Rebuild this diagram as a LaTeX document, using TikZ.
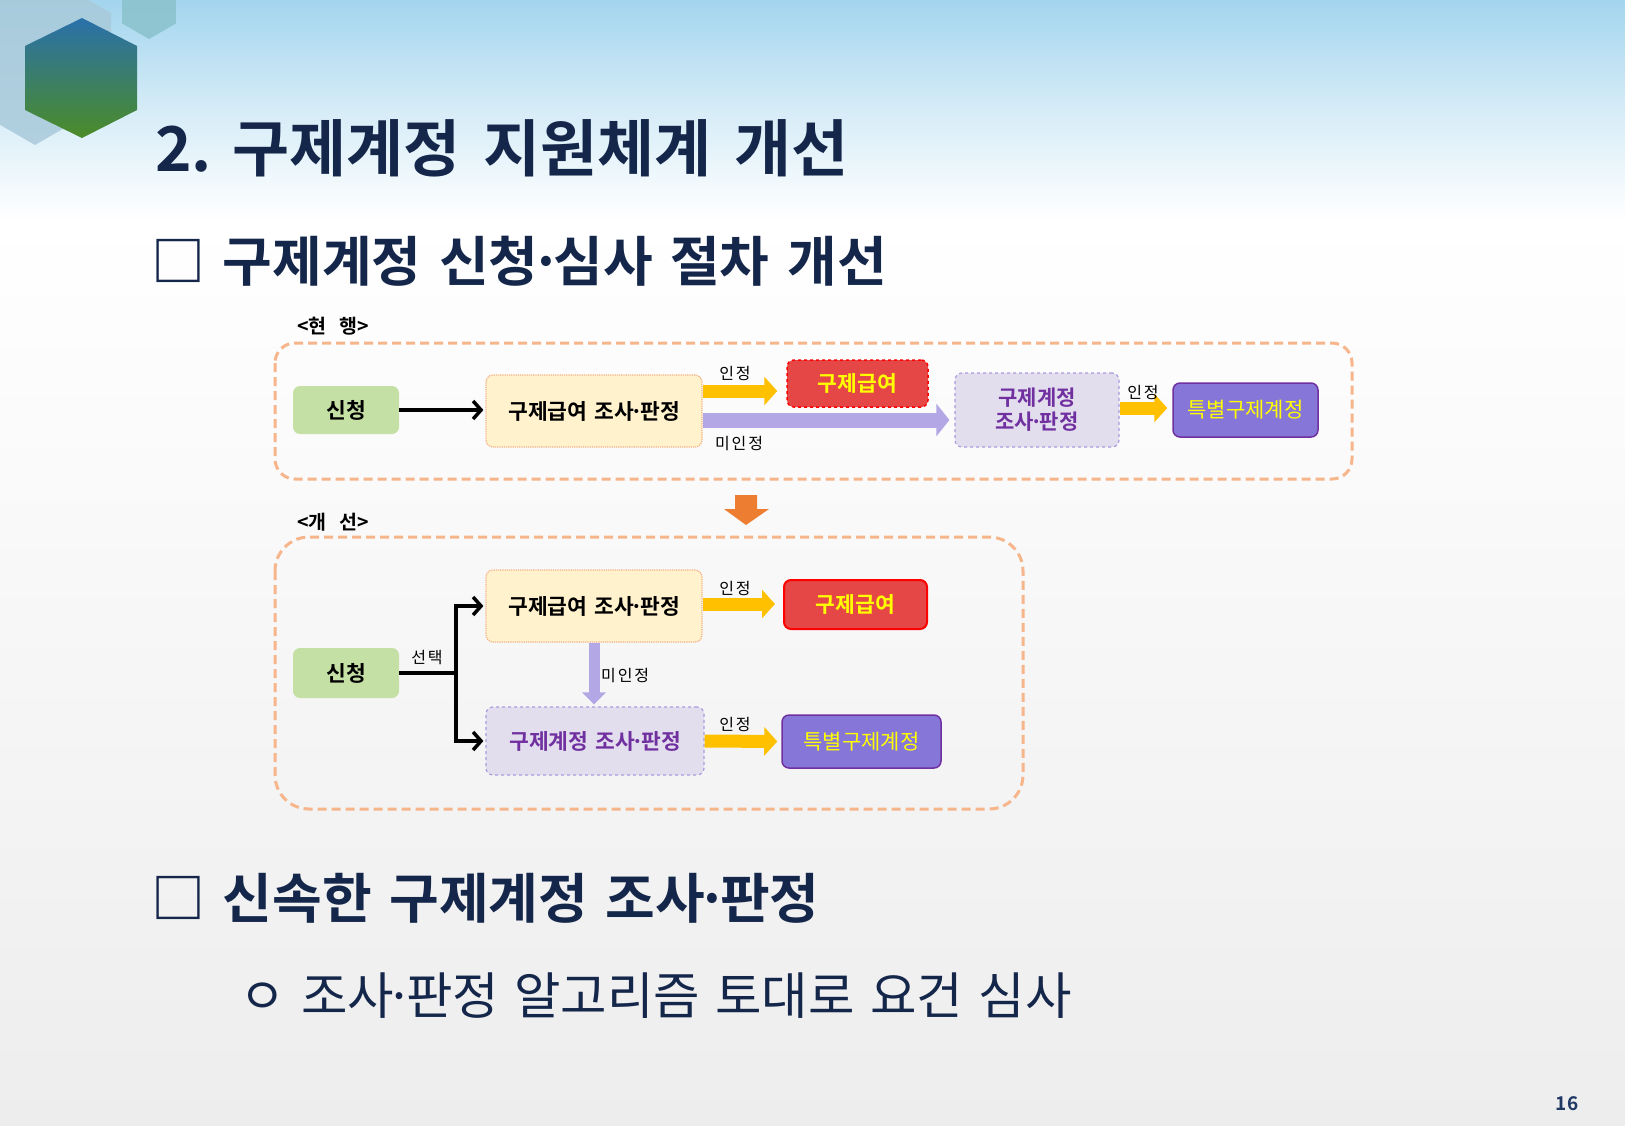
\documentclass[tikz,border=0pt]{standalone}
\usepackage{fontspec}
\setmainfont{Noto Sans CJK KR}[BoldFont={Noto Sans CJK KR Bold}]
\usetikzlibrary{arrows.meta}
\newcommand\mdot{\kern-0.16em·\kern-0.16em}
\newcommand\widespaces[1]{\spaceskip=\dimexpr\fontdimen2\font+#1\relax}
\definecolor{navy}{HTML}{14274A}
\definecolor{numblue}{HTML}{1F3864}
\definecolor{skyA}{HTML}{A3D5EE}
\definecolor{grayB}{HTML}{EDEDED}
\definecolor{hexpale}{HTML}{A9CADA}
\definecolor{hexteal}{HTML}{8CC3CD}
\definecolor{hexblue}{HTML}{2A70AA}
\definecolor{hexgreen}{HTML}{4B8C27}
\definecolor{cgreen}{HTML}{C5E0A5}
\definecolor{cyel}{HTML}{FFF2CC}
\definecolor{cyelb}{HTML}{F4B183}
\definecolor{cred}{HTML}{E54646}
\definecolor{cyellowtxt}{HTML}{FFFF00}
\definecolor{clav}{HTML}{E3DEEE}
\definecolor{clavb}{HTML}{A99BE0}
\definecolor{cpurtxt}{HTML}{7030A0}
\definecolor{cspec}{HTML}{8676D8}
\definecolor{carrowY}{HTML}{FFC000}
\definecolor{carrowP}{HTML}{B4A7E5}
\definecolor{cframe}{HTML}{F6B58A}
\definecolor{corange}{HTML}{ED7D31}
\tikzset{
  txt/.style={inner sep=0pt, anchor=base west},
  box/.style={rectangle, rounded corners=7pt, inner sep=0pt, align=center,
    font=\fontsize{21.5}{25}\selectfont\bfseries\widespaces{0.12em}},
  greenbox/.style={box, fill=cgreen, draw=none},
  yelbox/.style={box, fill=cyel, draw=cyelb, densely dotted, line width=1.2pt},
  redbox/.style={box, fill=cred, text=cyellowtxt},
  lavbox/.style={box, fill=clav, draw=clavb, dashed, line width=1.2pt, text=cpurtxt},
  specbox/.style={box, fill=cspec, draw=cpurtxt, line width=1.5pt, text=cyellowtxt,
    font=\fontsize{21}{24}\selectfont},
  lab/.style={inner sep=0pt, font=\fontsize{16}{19}\selectfont\addfontfeature{LetterSpace=12}},
  framebox/.style={draw=cframe, line width=3pt, dash pattern=on 9pt off 5pt},
  yarrow/.style={draw=carrowY, line width=13pt, -{Triangle[length=13pt,width=28pt]}},
  parrow/.style={draw=carrowP, line width=15pt, -{Triangle[length=13pt,width=32pt]}},
  bkarrow/.style={draw=black, line width=3.5pt, -{Straight Barb[length=8pt,width=18pt]}},
}
\begin{document}
\begin{tikzpicture}[x=1pt,y=-1pt]
\useasboundingbox (0,0) rectangle (1625,1125);
% background
\shade[top color=white, bottom color=grayB] (0,220) rectangle (1625,1125);
\shade[top color=skyA, bottom color=white, middle color=skyA!45] (0,0) rectangle (1625,220);
% hexagons
\fill[hexpale, opacity=0.85] (35,-31) -- (111,13) -- (111,101) -- (35,145) -- (-41,101) -- (-41,13) -- cycle;
\fill[hexteal, opacity=0.9] (149,-23) -- (175.8,-7.5) -- (175.8,23.5) -- (149,39) -- (122.2,23.5) -- (122.2,-7.5) -- cycle;
\shade[top color=hexblue, bottom color=hexgreen] (82,18) -- (137,46) -- (137,110) -- (82,138) -- (25,110) -- (25,46) -- cycle;
% headings
\node[txt, font=\fontsize{62}{70}\selectfont\bfseries\widespaces{0.14em}, text=navy] (title) at (155,171) {2. \kern-7pt구제계정 지원체계 개선};
\node[txt, font=\fontsize{54}{60}\selectfont\bfseries\widespaces{0.1em}, text=navy] (sub1) at (151,281) {□ 구제계정 신청\mdot 심사 절차 개선};
\node[txt, font=\fontsize{54}{60}\selectfont\bfseries\widespaces{0.1em}, text=navy] (sub2) at (151,918) {□ 신속한 구제계정 조사\mdot 판정};
\node[txt, font=\fontsize{50.5}{56}\selectfont\widespaces{0.08em}, text=navy] (bul) at (239,1014) {ㅇ 조사\mdot 판정 알고리즘 토대로 요건 심사};
\node[inner sep=0pt, font=\fontsize{19}{22}\selectfont\bfseries, text=numblue] (pg) at (1567,1104) {16};
% frame labels
\node[inner sep=0pt, font=\fontsize{19.5}{22}\selectfont\bfseries] (cur) at (333,326) {<현\hspace{13pt}행>};
\node[inner sep=0pt, font=\fontsize{19.5}{22}\selectfont\bfseries] (imp) at (333,522) {<개\hspace{13pt}선>};
% frames
\draw[framebox, rounded corners=20pt] (275,343) rectangle (1352,479);
\draw[framebox, rounded corners=34pt] (275,537) rectangle (1023,809);
% top row
\node[greenbox, minimum width=106pt, minimum height=48pt] (s1) at (346,410) {신청};
\node[yelbox, minimum width=216pt, minimum height=72pt] (a1) at (594,411) {구제급여 조사\mdot 판정};
\node[redbox, draw=red, dashed, line width=1.5pt, minimum width=141pt, minimum height=47pt] (r1) at (857.5,383.5) {구제급여};
\node[lavbox, minimum width=164pt, minimum height=74pt, font=\fontsize{21}{24}\selectfont\bfseries] (l1) at (1037,410) {구제계정\\조사\mdot 판정};
\node[specbox, minimum width=145pt, minimum height=54pt] (p1) at (1245.5,410) {특별구제계정};
\draw[bkarrow, shorten >=2pt] (s1.east) -- (a1.west |- s1.east);
\draw[yarrow, shorten >=9pt] (a1.east |- 0,391) -- (r1.west |- 0,391);
\draw[parrow, shorten >=5pt] (a1.east |- 0,420) -- (l1.west |- 0,420);
\draw[yarrow, shorten >=5pt] (l1.east |- 0,408) -- (p1.west |- 0,408);
\node[lab] (t1) at (735,373) {인정};
\node[lab] (t2) at (739,444) {미인정};
\node[lab] (t3) at (1143,392) {인정};
% down arrow
\fill[corange] (735,495) -- (757,495) -- (757,509) -- (769,509) -- (746,525) -- (724,509) -- (735,509) -- cycle;
% bottom
\node[greenbox, minimum width=106pt, minimum height=50pt] (s2) at (346,673) {신청};
\node[yelbox, minimum width=216pt, minimum height=72pt] (a2) at (594,606) {구제급여 조사\mdot 판정};
\node[redbox, draw=red, line width=2pt, minimum width=143pt, minimum height=49pt] (r2) at (855.5,604.5) {구제급여};
\node[lavbox, minimum width=218pt, minimum height=68pt] (l2) at (595,741) {구제계정 조사\mdot 판정};
\node[specbox, minimum width=159pt, minimum height=53pt] (p2) at (861.5,741.5) {특별구제계정};
\draw[bkarrow, shorten >=2pt] (s2.east) -- ++(57,0) |- (a2.west);
\draw[bkarrow, shorten >=2pt] (s2.east) -- ++(57,0) |- (l2.west);
\draw[parrow, line width=11pt, -{Triangle[length=12pt,width=23pt]}, shorten >=2pt] (a2.south) -- (a2.south |- l2.north);
\draw[yarrow, shorten >=8pt] (a2.east |- 0,604) -- (r2.west |- 0,604);
\draw[yarrow, shorten >=4pt] (l2.east) -- (p2.west);
\node[lab] (t4) at (427,658) {선택};
\node[lab, anchor=west] (t5) at (601,676) {미인정};
\node[lab] (t6) at (735,588) {인정};
\node[lab] (t7) at (735,724) {인정};
\end{tikzpicture}
\end{document}
